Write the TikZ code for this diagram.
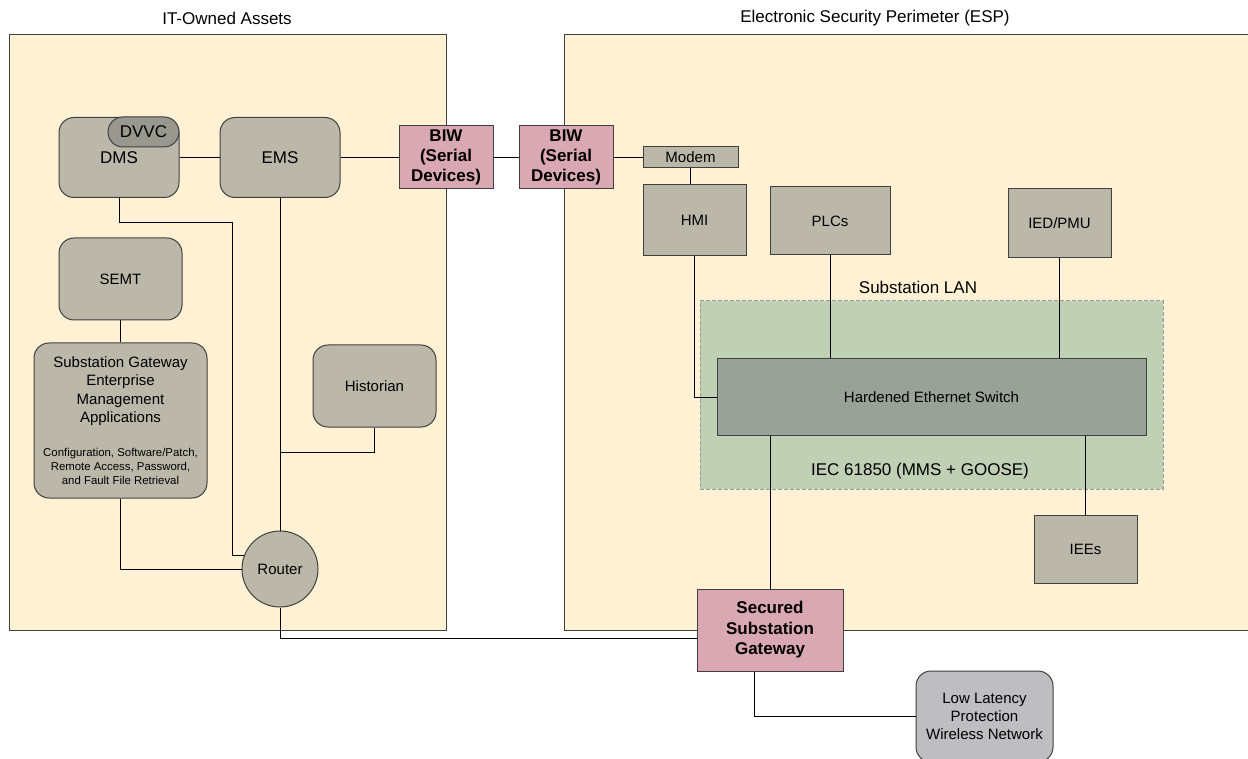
\documentclass[tikz,border=0pt]{standalone}
\usepackage{fontspec}
\setmainfont{Liberation Sans}
\usepackage{tikz}
\usetikzlibrary{
	arrows.meta,
	calc,
	positioning
}
\definecolor{zonefill}{RGB}{255,242,212}
\definecolor{devfill}{RGB}{187,184,170}
\definecolor{pillfill}{RGB}{153,152,143}
\definecolor{biwfill}{RGB}{218,168,178}
\definecolor{lanfill}{RGB}{192,208,180}
\definecolor{swfill}{RGB}{152,162,150}
\definecolor{netfill}{RGB}{190,190,192}
\newcommand{\fntMain}{\fontsize{7.5}{9.2}\selectfont}
\newcommand{\fntBig}{\fontsize{8.5}{10.2}\selectfont}
\newcommand{\fntBold}{\fontsize{8.5}{10.2}\selectfont\bfseries}
\newcommand{\fntTiny}{\fontsize{5.7}{7}\selectfont}
\tikzset{every path/.append style={line width=0.5pt}}
\tikzset{
	zone/.style={draw=black!75,fill=zonefill},
	title/.style={inner sep=0pt,font=\fntBig},
	box/.style={draw=black!75,fill=devfill,inner sep=0pt,align=center,font=\fntMain,
		minimum width=51.5pt,minimum height=35.5pt},
	rbox/.style={box,rounded corners=7.5pt,minimum width=60pt,minimum height=40pt},
	pill/.style={box,fill=pillfill,rounded corners=7.5pt,font=\fntBig,
		minimum width=35.5pt,minimum height=15pt},
	biw/.style={box,fill=biwfill,font=\fntBold,minimum width=47pt,minimum height=31.5pt},
	switchbox/.style={box,fill=swfill,minimum width=214.5pt,minimum height=38pt},
	lanbox/.style={draw=black!40,dash pattern=on 2pt off 1pt,fill=lanfill,inner sep=0pt}
}
\newcommand{\tikzBox}[4][]{\node (#3) at #2 [box,#1]{#4};}

\begin{document}
\begin{tikzpicture}[x=0.5pt,y=-0.5pt]
	\useasboundingbox (0,0) rectangle (1248,759);

	% zones
	\draw[zone] (9,35) rectangle (446,630);
	\draw[zone] (564,35) rectangle (1262,630);
	\node (ittitle) at (227,18) [title] {IT-Owned Assets};
	\node (esptitle) at (875,18) [title] {Electronic Security Perimeter (ESP)};
	\node (lan) at (931.5,395) [lanbox,minimum width=231.5pt,minimum height=94pt] {};
	\node (lantitle) at (918,287) [title] {Substation LAN};
	\node (iec) at (920,471) [title] {IEC 61850 (MMS + GOOSE)};

	% IT side
	\tikzBox[rbox,font=\fntBig]{(119,157.5)}{dms}{DMS}
	\tikzBox[pill]{(143.5,132)}{dvvc}{DVVC}
	\tikzBox[rbox,font=\fntBig]{(280,157.5)}{ems}{EMS}
	\tikzBox[rbox,minimum width=61.5pt,minimum height=41pt]{(120.5,279)}{semt}{SEMT}
	\tikzBox[rbox,minimum width=86.5pt,minimum height=77.5pt]{(120.5,420.5)}{sgema}{Substation Gateway\\Enterprise\\Management\\Applications\\[7.8pt]
		\fntTiny Configuration, Software/Patch,\\[-2.2pt]\fntTiny Remote Access, Password,\\[-2.2pt]\fntTiny and Fault File Retrieval}
	\tikzBox[rbox,minimum width=61.5pt,minimum height=41pt]{(374.5,386)}{historian}{Historian}
	\tikzBox[circle,minimum size=38pt]{(280,569)}{router}{Router}

	% serial link
	\tikzBox[biw]{(446,157.5)}{biwit}{BIW\\(Serial\\Devices)}
	\tikzBox[biw]{(566,157.5)}{biwesp}{BIW\\(Serial\\Devices)}

	% ESP side
	\tikzBox[minimum width=47.5pt,minimum height=10.5pt]{(690.5,157.5)}{modem}{Modem}
	\tikzBox{(694.5,220.5)}{hmi}{HMI}
	\tikzBox[minimum width=60pt,minimum height=34pt]{(830,221)}{plcs}{PLCs}
	\tikzBox[minimum height=34.5pt]{(1059.5,223.5)}{iedpmu}{IED/PMU}
	\tikzBox[switchbox]{(931.5,397)}{ethswitch}{Hardened Ethernet Switch}
	\tikzBox[minimum height=34pt]{(1085.5,549)}{iees}{IEEs}
	\tikzBox[biw,minimum width=73pt,minimum height=41pt]{(770,630)}{gateway}{Secured\\Substation\\Gateway}
	\tikzBox[rbox,fill=netfill,minimum width=68.5pt,minimum height=45.5pt]{(984.5,716.5)}{wireless}{Low Latency\\Protection\\Wireless Network}

	\coordinate (histjoin) at (280,452);

	% links
	\draw (dms) -- (ems);
	\draw (ems) -- (biwit);
	\draw (biwit) -- (biwesp);
	\draw (biwesp) -- (modem);
	\draw (modem) -- (modem |- hmi.north);
	\draw (dms.south) |- (232,223) |- (router.160);
	\draw (ems) -- (router);
	\draw (historian.south) |- (histjoin);
	\draw (semt) -- (sgema);
	\draw (sgema.south) |- (router.west);
	\draw (router.south) |- ([yshift=-4pt]gateway.west);
	\draw (hmi.south) |- (ethswitch.west);
	\draw (plcs.south) -- (plcs.south |- ethswitch.north);
	\draw (iedpmu.south) -- (iedpmu.south |- ethswitch.north);
	\draw (gateway.north) -- (gateway.north |- ethswitch.south);
	\draw (iees.north) -- (iees.north |- ethswitch.south);
	\draw ([xshift=-8pt]gateway.south) |- (wireless.west);
\end{tikzpicture}
\end{document}
